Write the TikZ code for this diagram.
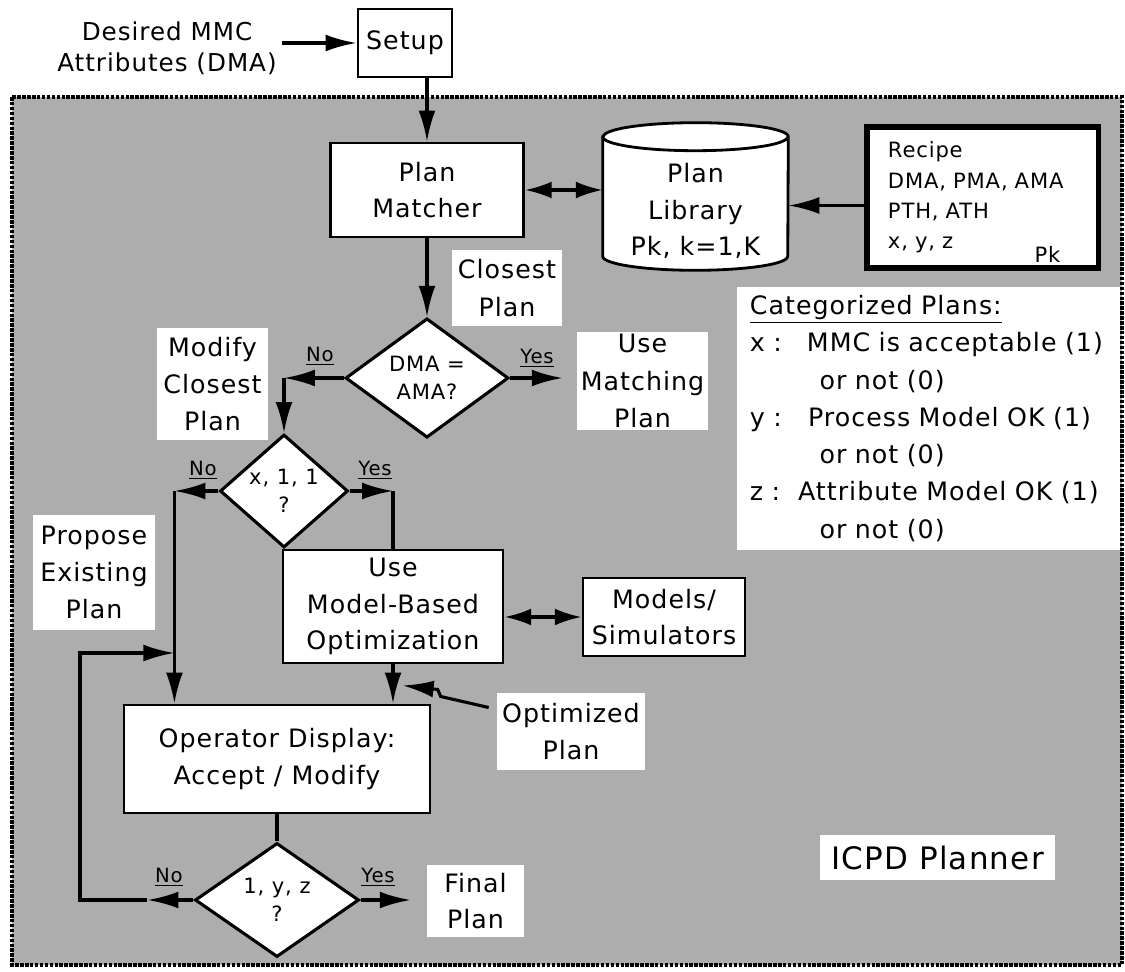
\documentclass[tikz,border=0pt]{standalone}
\usepackage{fontspec}
\setmainfont{DejaVu Sans}[LetterSpace=4]
\usepackage{tikz}
\usetikzlibrary{shapes.geometric}
\usetikzlibrary{arrows.meta}

\tikzset{
  box/.style={draw, line width=2pt, fill=white, align=center, inner sep=0pt, font=\fontsize{18}{26}\selectfont},
  whitenote/.style={fill=white, align=center, inner sep=0pt, font=\fontsize{18}{26.5}\selectfont},
  decision/.style={diamond, draw, line width=2.2pt, fill=white, inner sep=0pt, align=center, font=\fontsize{15}{20}\selectfont},
  yesno/.style={inner sep=0pt, font=\fontsize{14}{16}\selectfont},
  arr/.style={-{Latex[length=22pt,width=12pt]}, line width=2.2pt},
  twoway/.style={{Latex[length=19pt,width=12pt]}-{Latex[length=19pt,width=12pt]}, line width=2.2pt},
  wire/.style={line width=2.2pt},
}

\begin{document}
\begin{tikzpicture}[x=0.025cm, y=-0.025cm]
\useasboundingbox (0,0) rectangle (1125,972);
% planner area
\draw[fill=black!32, line width=2.8pt, dash pattern=on 2.5pt off 1pt] (12,97) rectangle (1122,965);

\node[align=center, font=\fontsize{17.5}{22}\selectfont] (desired) at (167,48) {Desired MMC\\Attributes (DMA)};
\node[box, minimum width=2.35cm, minimum height=1.7cm] (setup) at (405,43) {Setup};
\node[box, minimum width=4.825cm, minimum height=2.35cm] (matcher) at (427,190) {Plan\\Matcher};

% plan library
\node[inner sep=0pt, minimum width=4.625cm, minimum height=2.975cm] (lib) at (695.5,196.5) {};
\draw[line width=2pt, fill=white] (lib.north west) -- (lib.south west)
  arc[start angle=180, end angle=360, x radius=2.3125cm, y radius=0.35cm] -- (lib.north east)
  arc[start angle=0, end angle=180, x radius=2.3125cm, y radius=0.35cm] -- cycle;
\draw[line width=2pt] (lib.north west) arc[start angle=180, end angle=360, x radius=2.3125cm, y radius=0.35cm];
\node[align=center, inner sep=0pt, font=\fontsize{18}{26}\selectfont] (libtext) at (695.5,211) {Plan\\Library\\Pk, k=1,K};

\node[box, line width=3.6pt, align=left, text width=4.725cm, inner xsep=0.525cm, minimum height=3.525cm, font=\fontsize{15}{21.5}\selectfont] (recipe) at (982.5,197.5) {Recipe\\DMA, PMA, AMA\\PTH, ATH\\x, y, z};
\node[inner sep=0pt, anchor=south east, font=\fontsize{15}{18}\selectfont] (pk) at ([xshift=-1.0cm, yshift=0.2cm]recipe.south east) {Pk};

\draw[arr] (desired.east |- setup.west) -- (setup.west);
\draw[arr] (setup.south -| matcher.north) -- (matcher.north);
\draw[twoway] (matcher.east) -- (matcher.east -| lib.west);
\coordinate (recin) at ([yshift=-0.2cm]recipe.west);
\draw[arr] (recin) -- (recin -| lib.east);

% first decision
\node[whitenote, minimum width=2.75cm, minimum height=1.875cm] (closest) at (507,288) {Closest\\Plan};
\node[decision, minimum width=4.075cm, minimum height=2.75cm] (dmacheck) at (427,378) {DMA =\\AMA?};
\draw[arr] (matcher.south) -- (dmacheck.north);
\node[whitenote, minimum width=3.275cm, minimum height=2.45cm] (matching) at (642.5,381) {Use\\Matching\\Plan};
\draw[arr, shorten >=0.35cm] (dmacheck.east) -- (dmacheck.east -| matching.west);
\node[yesno] (yes1) at (537,358) {\underline{Yes}};
\node[whitenote, minimum width=2.775cm, minimum height=2.8cm] (modify) at (212.5,384) {Modify\\Closest\\Plan};

% second decision
\node[decision, minimum width=3.2cm, minimum height=2.45cm] (check) at (284,491) {x, 1, 1\\?};
\coordinate (nocorner) at (dmacheck.west -| check.north);
\draw[arr] (dmacheck.west) -- (nocorner);
\draw[arr] (nocorner) -- (check.north);
\node[yesno] (no1) at (320,356) {\underline{No}};

\node[box, minimum width=5.5cm, minimum height=2.825cm] (usemodel) at (393,606.5) {Use\\Model-Based\\Optimization};
\coordinate (yescorner) at (check.east -| usemodel.north);
\draw[arr] (check.east) -- (yescorner);
\draw[wire] (yescorner) -- (usemodel.north);
\node[yesno] (yes2) at (375,470) {\underline{Yes}};

\node[box, minimum width=7.65cm, minimum height=2.7cm] (operator) at (277,759) {Operator Display:\\Accept / Modify};
\coordinate (nocorner2) at ([xshift=-1.1cm]check.west);
\draw[arr] (check.west) -- (nocorner2);
\draw[arr] (nocorner2) -- (nocorner2 |- operator.north);
\node[yesno] (no2) at (203,470) {\underline{No}};
\node[whitenote, minimum width=3.05cm, minimum height=2.875cm] (propose) at (94,572.5) {Propose\\Existing\\Plan};

\node[box, minimum width=4.05cm, minimum height=1.95cm] (models) at (664,617) {Models/\\Simulators};
\draw[twoway] (models.west -| usemodel.east) -- (models.west);
\draw[arr] (usemodel.south) -- (usemodel.south |- operator.north);
\node[whitenote, minimum width=3.7cm, minimum height=1.925cm] (optimized) at (571,731.5) {Optimized\\Plan};
\draw[arr] ([xshift=-0.2cm, yshift=0.6cm]optimized.west) -- ++(-48,-11) -- ++(-3,-7) -- ++(-35,-4);

% last decision
\node[decision, minimum width=4.1cm, minimum height=2.85cm] (accept) at (277,900) {1, y, z\\?};
\draw[wire] (operator.south) -- (accept.north);
\node[whitenote, font=\fontsize{18}{26}\selectfont, minimum width=2.425cm, minimum height=1.8cm] (finalplan) at (475.5,901) {Final\\Plan};
\draw[arr, shorten >=0.4cm] (accept.east) -- (accept.east -| finalplan.west);
\node[yesno] (yes3) at (378,877) {\underline{Yes}};
\node[yesno] (no3) at (169,877) {\underline{No}};
\coordinate (loopmid) at ([xshift=-1.15cm]accept.west);
\coordinate (looptop) at (80,653);
\draw[arr] (accept.west) -- (loopmid);
\draw[arr] (loopmid) -- (loopmid -| looptop) -- (looptop) -- (looptop -| nocorner2);

\node[whitenote, align=left, text width=8.925cm, inner xsep=0.325cm, minimum height=6.575cm] (legend) at (928.5,418.5)
  {\underline{Categorized Plans:}\\
   \makebox[2.25em][l]{x :}MMC is acceptable (1)\\
   \hspace*{2.75em}or not (0)\\
   \makebox[2.3em][l]{y :}Process Model OK (1)\\
   \hspace*{2.75em}or not (0)\\
   \makebox[1.9em][l]{z :}Attribute Model OK (1)\\
   \hspace*{2.75em}or not (0)};
\node[whitenote, minimum width=5.875cm, minimum height=1.125cm, font=\fontsize{22}{26}\selectfont] (planner) at (937.5,857.5) {ICPD Planner};
\end{tikzpicture}
\end{document}
